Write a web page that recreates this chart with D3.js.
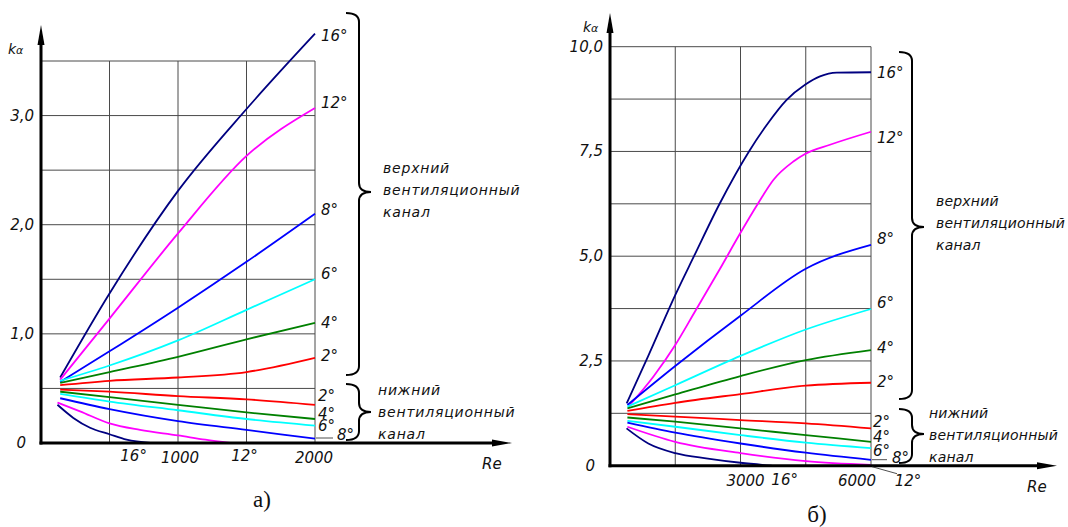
<!DOCTYPE html>
<html>
<head>
<meta charset="utf-8">
<script src="https://cdn.jsdelivr.net/npm/d3@7"></script>
<style>
  body { margin: 0; background: #fff; }
  svg text { font-family: "DejaVu Sans", sans-serif; font-style: italic; fill: #111; }
  .tick { font-size: 15px; }
  .ang { font-size: 15px; }
  .note { font-size: 14px; letter-spacing: 0.6px; }
  .cap { font-family: "Liberation Serif", serif; font-style: normal; font-size: 23px; }
</style>
</head>
<body>
<div id="svg-container"></div>
<script>
////////////////////////////////////////////////////////////////////
////////////////////////////  Data  ////////////////////////////////

const upperAngles = ["16°", "12°", "8°", "6°", "4°", "2°"];
const upperColors = ["#000080", "#ff00ff", "#0000ff", "#00ffff", "#008000", "#ff0000"];
const lowerAngles = ["2°", "4°", "6°", "8°"];
const lowerColors = ["#ff0000", "#008000", "#00ffff", "#0000ff"];

// a) Re 0..2000
const ticksYA = [0, 1, 2, 3];
const ticksXA = [1000, 2000];
const reA = [140, 500, 1000, 1500, 2000];
const kUpperA = [
  [0.60, 1.37, 2.31, 3.06, 3.75], // 16
  [0.58, 1.14, 1.92, 2.63, 3.07], // 12
  [0.56, 0.84, 1.24, 1.66, 2.10], // 8
  [0.57, 0.71, 0.94, 1.22, 1.50], // 6
  [0.55, 0.65, 0.79, 0.95, 1.10], // 4
  [0.53, 0.57, 0.60, 0.65, 0.78], // 2
];
const kLowerA = [
  [0.49, 0.47, 0.43, 0.40, 0.35], // 2
  [0.47, 0.42, 0.35, 0.28, 0.22], // 4
  [0.45, 0.38, 0.30, 0.22, 0.16], // 6
  [0.41, 0.31, 0.20, 0.12, 0.04], // 8
];
const reLowA12 = [120, 285, 500, 723, 1000, 1200, 1380];
const kLowA12 = [0.37, 0.29, 0.18, 0.12, 0.07, 0.03, 0.0];
const reLowA16 = [120, 236, 358, 500, 625, 800];
const kLowA16 = [0.35, 0.23, 0.14, 0.08, 0.03, 0.0];

// б) Re 0..6000
const ticksYB = [0, 2.5, 5, 7.5, 10];
const ticksXB = [3000, 6000];
const reB = [400, 1500, 3000, 4500, 6000];
const reUpB16 = [383, 880, 1494, 1931, 2529, 3195, 3602, 4061, 4483, 4828, 5211, 6000];
const kUpB16 = [1.49, 2.62, 4.06, 5.0, 6.27, 7.50, 8.13, 8.73, 9.09, 9.29, 9.38, 9.39];
const reUpB12 = [421, 1000, 1500, 1954, 2529, 2950, 3410, 3755, 4215, 4483, 5057, 6000];
const kUpB12 = [1.41, 2.13, 2.88, 3.68, 4.70, 5.47, 6.27, 6.82, 7.26, 7.44, 7.66, 7.97];
const kUpperB = [
  [1.45, 2.38, 3.58, 4.70, 5.27], // 8
  [1.41, 1.92, 2.62, 3.25, 3.74], // 6
  [1.37, 1.70, 2.14, 2.52, 2.76], // 4
  [1.31, 1.50, 1.71, 1.91, 1.98], // 2
];
const kLowerB = [
  [1.23, 1.17, 1.09, 1.01, 0.89], // 2
  [1.15, 1.05, 0.89, 0.73, 0.57], // 4
  [1.07, 0.93, 0.73, 0.55, 0.42], // 6
  [1.03, 0.79, 0.53, 0.31, 0.14], // 8
  [0.93, 0.57, 0.30, 0.11, 0.02], // 12
];
const reLowB16 = [380, 880, 1500, 2250, 3000, 3716];
const kLowB16 = [0.89, 0.53, 0.30, 0.17, 0.07, 0.0];

////////////////////////////////////////////////////////////////////
////////////////////////////  Init  ////////////////////////////////

const width = 1068, height = 527;
const svg = d3.select("#svg-container").append("svg")
  .attr("width", width).attr("height", height);

const zip = (xs, ys) => xs.map((x, i) => [x, ys[i]]);
const fmt = (v) => (v === 0 ? "0" : d3.format(".1f")(v).replace(".", ","));

const drawChart = (cfg) => {
  const { x, y, xStep, yStep, series } = cfg;
  const g = svg.append("g");
  const [x0, x1] = x.domain();
  const [y0, y1] = y.domain();

  // grid
  g.selectAll(".vg").data(d3.range(x0 + xStep, x1 + 1, xStep)).enter()
    .append("line")
    .attr("x1", (d) => x(d)).attr("x2", (d) => x(d))
    .attr("y1", y(y0)).attr("y2", y(y1))
    .attr("stroke", "#4a4a4a").attr("stroke-width", 1);
  g.selectAll(".hg").data(d3.range(y0 + yStep, y1 + 0.001, yStep)).enter()
    .append("line")
    .attr("x1", x(x0)).attr("x2", x(x1))
    .attr("y1", (d) => y(d)).attr("y2", (d) => y(d))
    .attr("stroke", "#4a4a4a").attr("stroke-width", 1);

  // curves
  const line = d3.line()
    .x((d) => x(d[0])).y((d) => y(d[1]))
    .curve(d3.curveMonotoneX);
  g.selectAll(".curve").data(series).enter()
    .append("path")
    .attr("d", (d) => line(d.pts))
    .attr("fill", "none")
    .attr("stroke", (d) => d.color)
    .attr("stroke-width", 1.8);

  // axes with arrows
  const ax = x(x0), ay = y(y0);
  g.append("line").attr("x1", ax).attr("x2", ax)
    .attr("y1", ay + 1.5).attr("y2", cfg.yTip + 12)
    .attr("stroke", "#000").attr("stroke-width", 3);
  g.append("path")
    .attr("d", `M${ax},${cfg.yTip} L${ax - 3.5},${cfg.yTip + 20} L${ax + 3.5},${cfg.yTip + 20} Z`)
    .attr("fill", "#000");
  g.append("line").attr("x1", ax - 1.5).attr("x2", cfg.xTip - 12)
    .attr("y1", ay).attr("y2", ay)
    .attr("stroke", "#000").attr("stroke-width", 3);
  g.append("path")
    .attr("d", `M${cfg.xTip},${ay} L${cfg.xTip - 20},${ay - 3.5} L${cfg.xTip - 20},${ay + 3.5} Z`)
    .attr("fill", "#000");

  // tick labels
  g.selectAll(".yl").data(cfg.yTicks).enter()
    .append("text").attr("class", "tick")
    .attr("x", (d) => ax - (d === 0 ? 15 : 7))
    .attr("y", (d) => y(d) + 5)
    .attr("text-anchor", "end")
    .text(fmt);
  g.selectAll(".xl").data(cfg.xTicks).enter()
    .append("text").attr("class", "tick")
    .attr("x", (d, i) => x(d) + cfg.xTickDx[i])
    .attr("y", ay + 20)
    .attr("text-anchor", "middle")
    .text((d) => d);

  // axis names
  const ka = g.append("text").attr("x", ax - 33 + cfg.kDx).attr("y", cfg.yTip + cfg.kDy)
    .style("font-size", "14px");
  ka.append("tspan").text("k");
  ka.append("tspan").text("α").style("font-size", "11px");
  g.append("text").attr("class", "tick")
    .attr("x", cfg.xTip - 30).attr("y", ay + 26).text("Re");
  return g;
};

const brace = (g, bx, yTop, yMid, yBot) => {
  const xv = bx + 13, xt = bx + 25, r = 9;
  g.append("path")
    .attr("d",
      `M${bx},${yTop} Q${xv},${yTop} ${xv},${yTop + r} L${xv},${yMid - r} ` +
      `Q${xv},${yMid} ${xt},${yMid} Q${xv},${yMid} ${xv},${yMid + r} ` +
      `L${xv},${yBot - r} Q${xv},${yBot} ${bx},${yBot}`)
    .attr("fill", "none").attr("stroke", "#000").attr("stroke-width", 2);
};

const note = (g, x0, yBase, lines, spacing) => {
  g.selectAll(null).data(lines).enter()
    .append("text").attr("class", "note")
    .attr("x", x0).attr("y", (d, i) => yBase + i * 22)
    .style("letter-spacing", spacing + "px")
    .text((d) => d);
};

////////////////////////////////////////////////////////////////////
//////////////////////////  Chart а)  //////////////////////////////

const xA = d3.scaleLinear().domain([0, 2000]).range([41, 315]);
const yA = d3.scaleLinear().domain([0, 3.5]).range([443, 61]);

const seriesA = [
  ...kUpperA.map((k, i) => ({ color: upperColors[i], pts: zip(reA, k) })),
  ...kLowerA.map((k, i) => ({ color: lowerColors[i], pts: zip(reA, k) })),
  { color: "#ff00ff", pts: zip(reLowA12, kLowA12) },
  { color: "#000080", pts: zip(reLowA16, kLowA16) },
];

const gA = drawChart({
  x: xA, y: yA, xStep: 500, yStep: 0.5, series: seriesA,
  yTip: 25, xTip: 512, yTicks: ticksYA, xTicks: ticksXA, xTickDx: [2, -1],
  kDx: 0, kDy: 29,
});

// angle labels
const upDyA = [2, -5, -4, -5, 0, -2];
gA.selectAll(".ua").data(upperAngles).enter()
  .append("text").attr("class", "ang")
  .attr("x", xA(2000) + 6)
  .attr("y", (d, i) => yA(kUpperA[i][4]) + upDyA[i] + 5)
  .text((d) => d);
const lowDyA = [-9, -5, 0, -4];
const lowDxA = [3, 3, 3, 22];
gA.selectAll(".la").data(lowerAngles).enter()
  .append("text").attr("class", "ang")
  .attr("x", (d, i) => xA(2000) + lowDxA[i])
  .attr("y", (d, i) => yA(kLowerA[i][4]) + lowDyA[i] + 5)
  .text((d) => d);
gA.append("line").attr("x1", xA(2000) + 1).attr("x2", xA(2000) + 18)
  .attr("y1", yA(0) - 5).attr("y2", yA(0) - 5)
  .attr("stroke", "#222").attr("stroke-width", 0.8);
// labels under the axis where curves meet zero
gA.append("text").attr("class", "tick").attr("x", xA(reLowA16[5]) - 17).attr("y", yA(0) + 18)
  .attr("text-anchor", "middle").text("16°");
gA.append("text").attr("class", "tick").attr("x", xA(1500) - 2).attr("y", yA(0) + 18)
  .attr("text-anchor", "middle").text("12°");

brace(gA, 346, 13, 192, 375);
brace(gA, 346, 384, 412, 440);
note(gA, 383, 173, ["верхний", "вентиляционный", "канал"], 0.8);
note(gA, 378, 395, ["нижний", "вентиляционный", "канал"], 0.8);
gA.append("text").attr("class", "cap").attr("x", 262).attr("y", 507)
  .attr("text-anchor", "middle").text("а)");

////////////////////////////////////////////////////////////////////
//////////////////////////  Chart б)  //////////////////////////////

const xB = d3.scaleLinear().domain([0, 6000]).range([610, 871]);
const yB = d3.scaleLinear().domain([0, 10]).range([465.7, 46.7]);

const kUpEndB = [kUpB16[kUpB16.length - 1], kUpB12[kUpB12.length - 1], ...kUpperB.map((k) => k[4])];
const seriesB = [
  { color: "#000080", pts: zip(reUpB16, kUpB16) },
  { color: "#ff00ff", pts: zip(reUpB12, kUpB12) },
  ...kUpperB.map((k, i) => ({ color: upperColors[i + 2], pts: zip(reB, k) })),
  ...kLowerB.map((k, i) => ({ color: i < 4 ? lowerColors[i] : "#ff00ff", pts: zip(reB, k) })),
  { color: "#000080", pts: zip(reLowB16, kLowB16) },
];

const gB = drawChart({
  x: xB, y: yB, xStep: 1500, yStep: 1.25, series: seriesB,
  yTip: 13, xTip: 1057, yTicks: ticksYB, xTicks: ticksXB, xTickDx: [5, -14],
  kDx: 6, kDy: 19,
});

const upDyB = [1, 6, -6, -6, -2, -1];
gB.selectAll(".ub").data(upperAngles).enter()
  .append("text").attr("class", "ang")
  .attr("x", xB(6000) + 6)
  .attr("y", (d, i) => yB(kUpEndB[i]) + upDyB[i] + 5)
  .text((d) => d);
const lowDyB = [-6, -5, 3, -2];
const lowDxB = [2, 2, 2, 21];
gB.selectAll(".lb").data(lowerAngles).enter()
  .append("text").attr("class", "ang")
  .attr("x", (d, i) => xB(6000) + lowDxB[i])
  .attr("y", (d, i) => yB(kLowerB[i][4]) + lowDyB[i] + 5)
  .text((d) => d);
gB.append("line").attr("x1", xB(6000) + 1).attr("x2", xB(6000) + 16)
  .attr("y1", yB(0) - 6).attr("y2", yB(0) - 6)
  .attr("stroke", "#222").attr("stroke-width", 0.8);
gB.append("line").attr("x1", xB(6000) + 1).attr("x2", xB(6000) + 26)
  .attr("y1", yB(0) + 1).attr("y2", yB(0) + 8)
  .attr("stroke", "#222").attr("stroke-width", 0.8);
gB.append("text").attr("class", "tick").attr("x", xB(6000) + 37).attr("y", yB(0) + 20)
  .attr("text-anchor", "middle").text("12°");
gB.append("text").attr("class", "tick").attr("x", xB(reLowB16[5]) + 13).attr("y", yB(0) + 19)
  .attr("text-anchor", "middle").text("16°");

brace(gB, 899, 52, 227, 399);
brace(gB, 899, 409, 434, 463);
note(gB, 936, 206, ["верхний", "вентиляционный", "канал"], 0.2);
note(gB, 929, 418, ["нижний", "вентиляционный", "канал"], 0.2);
gB.append("text").attr("class", "cap").attr("x", 817).attr("y", 522)
  .attr("text-anchor", "middle").text("б)");
</script>
</body>
</html>
